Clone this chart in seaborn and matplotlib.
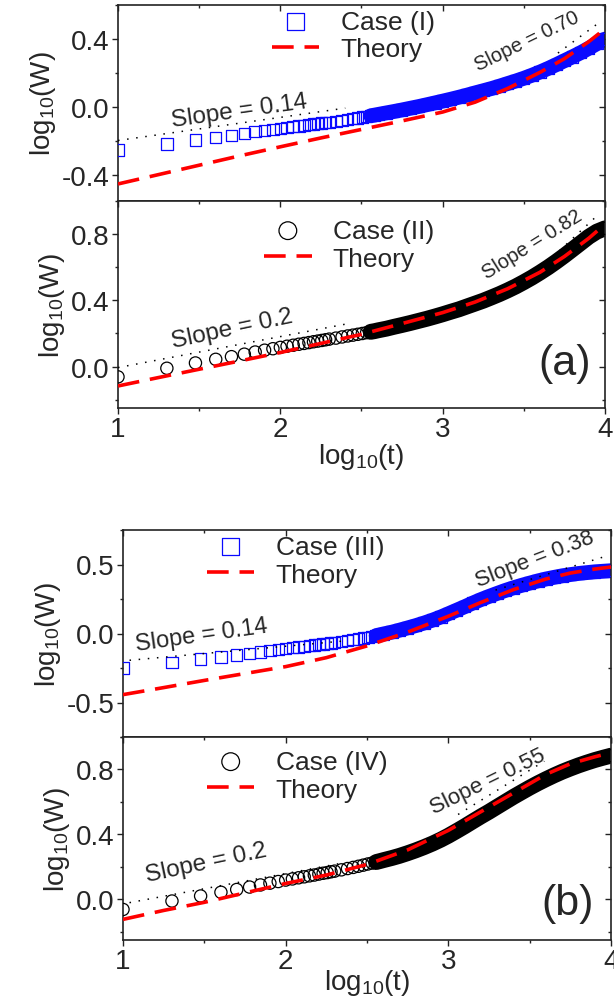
import numpy as np
import matplotlib
matplotlib.use("Agg")
import matplotlib.pyplot as plt
from matplotlib.ticker import MultipleLocator, FormatStrFormatter
import seaborn as sns

# sampling times of the simulated width data
t = [10, 20, 30, 40, 50, 60, 70, 80, 90, 100, 110, 120, 130, 140, 150, 160, 170,
     180, 190, 200, 220, 240, 260, 280, 300, 320, 340, 360, 380, 400,
     450, 500, 560, 630, 710, 800, 900, 1000, 1120, 1260, 1410, 1580, 1780,
     2000, 2240, 2510, 2820, 3160, 3550, 3980, 4470, 5010, 5620, 6310, 7080,
     7940, 8910, 10000]

case1 = [-0.251, -0.216, -0.193, -0.177, -0.164, -0.153, -0.144, -0.137, -0.130, -0.124,
         -0.119, -0.114, -0.110, -0.106, -0.102, -0.099, -0.096, -0.093, -0.090, -0.088,
         -0.082, -0.077, -0.072, -0.067, -0.063, -0.058, -0.054, -0.050, -0.046, -0.042,
         -0.033, -0.025, -0.016, -0.006, 0.004, 0.015, 0.026, 0.036, 0.047, 0.059,
         0.071, 0.084, 0.097, 0.110, 0.124, 0.139, 0.154, 0.170, 0.188, 0.207,
         0.228, 0.250, 0.273, 0.296, 0.320, 0.346, 0.373, 0.400]
case2 = [-0.062, -0.010, 0.022, 0.044, 0.060, 0.075, 0.088, 0.099, 0.108, 0.116,
         0.123, 0.129, 0.135, 0.140, 0.145, 0.150, 0.154, 0.158, 0.162, 0.166,
         0.172, 0.179, 0.185, 0.190, 0.195, 0.200, 0.205, 0.210, 0.214, 0.219,
         0.229, 0.240, 0.251, 0.263, 0.276, 0.289, 0.303, 0.316, 0.331, 0.346,
         0.363, 0.380, 0.398, 0.418, 0.438, 0.460, 0.484, 0.510, 0.538, 0.568,
         0.600, 0.634, 0.670, 0.708, 0.746, 0.784, 0.815, 0.835]
case3 = [-0.249, -0.208, -0.186, -0.170, -0.155, -0.143, -0.133, -0.124, -0.116, -0.109,
         -0.103, -0.097, -0.092, -0.087, -0.083, -0.079, -0.075, -0.071, -0.068, -0.064,
         -0.058, -0.051, -0.045, -0.039, -0.033, -0.027, -0.021, -0.015, -0.009, -0.003,
         0.010, 0.024, 0.040, 0.057, 0.076, 0.097, 0.120, 0.143, 0.168, 0.194,
         0.220, 0.245, 0.269, 0.291, 0.312, 0.331, 0.349, 0.365, 0.381, 0.395,
         0.407, 0.418, 0.427, 0.435, 0.441, 0.447, 0.451, 0.455]
case4 = [-0.062, -0.010, 0.021, 0.044, 0.061, 0.076, 0.089, 0.100, 0.110, 0.119,
         0.126, 0.133, 0.139, 0.145, 0.150, 0.156, 0.161, 0.165, 0.170, 0.174,
         0.182, 0.190, 0.197, 0.204, 0.211, 0.218, 0.224, 0.230, 0.236, 0.242,
         0.255, 0.268, 0.284, 0.302, 0.322, 0.344, 0.368, 0.392, 0.420, 0.450,
         0.480, 0.510, 0.540, 0.571, 0.601, 0.631, 0.660, 0.688, 0.715, 0.740,
         0.764, 0.786, 0.806, 0.825, 0.842, 0.858, 0.872, 0.885]

theory_x = [1.0, 1.25, 1.5, 1.75, 2.0, 2.25, 2.5, 2.75, 3.0, 3.2, 3.4, 3.6, 3.75, 3.9, 4.0]
theory1 = [-0.450, -0.395, -0.340, -0.285, -0.232, -0.180, -0.130, -0.080, -0.028,
           0.030, 0.110, 0.205, 0.285, 0.385, 0.460]
theory2 = [-0.117, -0.066, -0.016, 0.034, 0.085, 0.140, 0.195, 0.260, 0.326,
           0.390, 0.470, 0.570, 0.665, 0.775, 0.860]
theory3 = [-0.443, -0.392, -0.340, -0.290, -0.240, -0.175, -0.090, 0.010, 0.125,
           0.225, 0.318, 0.395, 0.438, 0.467, 0.482]
theory4 = [-0.123, -0.068, -0.018, 0.040, 0.098, 0.150, 0.215, 0.305, 0.425,
           0.540, 0.655, 0.770, 0.835, 0.878, 0.903]

# guide lines (end points) and their labels
guides = {
    1: [([1.0, 2.4], [-0.195, -0.005]), ([3.71, 3.96], [0.318, 0.494])],
    2: [([1.0, 2.4], [-0.006, 0.256]), ([3.72, 3.95], [0.70, 0.91])],
    3: [([1.04, 2.35], [-0.194, -0.055]), ([3.29, 3.98], [0.315, 0.564])],
    4: [([1.04, 2.36], [-0.02, 0.226]), ([3.06, 3.59], [0.523, 0.851])],
}
slope_labels = {
    1: [("Slope = 0.14", 1.75, -0.02, 8, 17.5), ("Slope = 0.70", 3.52, 0.39, 26, 14.5)],
    2: [("Slope = 0.2", 1.70, 0.23, 12, 17.5), ("Slope = 0.82", 3.55, 0.74, 32, 14.5)],
    3: [("Slope = 0.14", 1.48, -0.012, 8, 17), ("Slope = 0.38", 3.53, 0.545, 21, 16)],
    4: [("Slope = 0.2", 1.51, 0.226, 12, 17.5), ("Slope = 0.55", 3.24, 0.728, 26, 16)],
}

sns.set_style("ticks")
plt.rcParams["font.family"] = ["Liberation Sans", "DejaVu Sans"]
plt.rcParams["mathtext.default"] = "regular"
plt.rcParams["axes.unicode_minus"] = False

W, H = 614, 1003
fig = plt.figure(figsize=(W / 100, H / 100), dpi=100)


def box(l, r, top, bot):
    return [l / W, 1 - bot / H, (r - l) / W, (bot - top) / H]


x = np.log10(t)
dense = x >= 2.55


def panel(ax, y, th, marker, msize, color, label, ylim, major, minor, legpos, key):
    y = np.array(y)
    sns.lineplot(x=x[dense], y=y[dense], color=color, linewidth=msize * 1.3, sort=False,
                 estimator=None, ax=ax, solid_capstyle="round", zorder=2)
    sns.scatterplot(x=x, y=y, marker=marker, s=msize ** 2, facecolor="none",
                    edgecolor=color, linewidth=0.9, color=color, ax=ax,
                    zorder=3, label=label)
    sns.lineplot(x=theory_x, y=th, color="#ff0000", linewidth=2.6, ax=ax, sort=False,
                 estimator=None, zorder=4, label="Theory")
    ax.lines[-1].set_dashes((6.0, 3.0))
    for gx, gy in guides[key]:
        ax.plot(gx, gy, color="black", lw=1.1, linestyle=(0, (1, 5)), zorder=5)
    for txt, tx, ty, rot, fs in slope_labels[key]:
        ax.text(tx, ty, txt, fontsize=fs, rotation=rot, ha="center", va="center",
                rotation_mode="anchor", zorder=6)
    ax.set_xlim(1, 4)
    ax.set_ylim(*ylim)
    ax.xaxis.set_major_locator(MultipleLocator(1))
    ax.xaxis.set_minor_locator(MultipleLocator(0.5))
    ax.yaxis.set_major_locator(MultipleLocator(major))
    ax.yaxis.set_minor_locator(MultipleLocator(minor))
    ax.yaxis.set_major_formatter(FormatStrFormatter("%.1f"))
    ax.tick_params(which="both", direction="out", labelsize=20, width=1, color="#222222")
    ax.tick_params(which="major", length=4, pad=2)
    ax.tick_params(which="minor", length=2.5)
    for side in ["right", "top"]:
        sec = ax.secondary_yaxis("right") if side == "right" else ax.secondary_xaxis("top")
        sec.tick_params(which="both", direction="in", labelleft=False, labelright=False,
                        labeltop=False, labelbottom=False, width=1, color="#222222")
        sec.tick_params(which="major", length=4)
        sec.tick_params(which="minor", length=2.5)
        axis = sec.yaxis if side == "right" else sec.xaxis
        axis.set_minor_locator(MultipleLocator(minor if side == "right" else 0.5))
        axis.set_major_locator(MultipleLocator(major if side == "right" else 1))
        for s in sec.spines.values():
            s.set_visible(False)
    for s in ax.spines.values():
        s.set_linewidth(1.2)
        s.set_color("#222222")
    ax.set_ylabel("log$_{10}$(W)", fontsize=20, labelpad=3)
    ax.set_xlabel("")
    ax.legend(loc="upper left", bbox_to_anchor=legpos, frameon=False, fontsize=19,
              handlelength=1.8, handletextpad=0.8, labelspacing=0.15, borderpad=0,
              borderaxespad=0, markerscale=1.45)


ax1 = fig.add_axes(box(118, 605, 6, 202))
ax2 = fig.add_axes(box(118, 605, 202, 409))
ax3 = fig.add_axes(box(123, 611, 531, 738))
ax4 = fig.add_axes(box(123, 611, 738, 941))

panel(ax1, case1, theory1, "s", 8.2, "#0a0aff", "Case (I)", (-0.55, 0.6), 0.4, 0.2,
      (0.316, 0.977), 1)
panel(ax2, case2, theory2, "o", 8.8, "black", "Case (II)", (-0.25, 1.0), 0.4, 0.2,
      (0.30, 0.915), 2)
panel(ax3, case3, theory3, "s", 8.2, "#0a0aff", "Case (III)", (-0.75, 0.75), 0.5, 0.25,
      (0.172, 0.978), 3)
panel(ax4, case4, theory4, "o", 8.8, "black", "Case (IV)", (-0.25, 1.0), 0.4, 0.2,
      (0.172, 0.938), 4)

for ax in (ax1, ax3):
    ax.tick_params(labelbottom=False)
ax2.set_xlabel("log$_{10}$(t)", fontsize=20, labelpad=-1)
ax4.set_xlabel("log$_{10}$(t)", fontsize=20, labelpad=-5)

ax2.text(3.75, 0.02, "(a)", fontsize=31, ha="center", va="center")
ax4.text(3.73, -0.02, "(b)", fontsize=31, ha="center", va="center")

fig.savefig("out.png", dpi=100)
